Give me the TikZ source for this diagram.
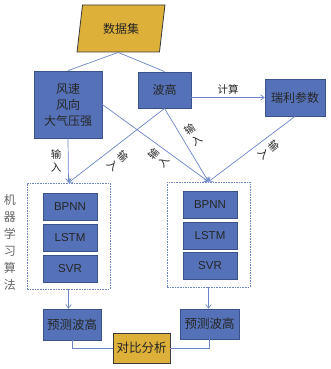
\documentclass[tikz,border=0pt]{standalone}
\usepackage{fontspec}
\setmainfont{Liberation Sans}
\newfontfamily\cjk{Noto Sans CJK SC}
\usetikzlibrary{shapes.geometric,arrows.meta}
\definecolor{boxblue}{HTML}{5572B8}
\definecolor{boxedge}{HTML}{3A5189}
\definecolor{gold}{HTML}{DDB03A}
\definecolor{goldedge}{HTML}{3A3A3A}
\definecolor{linecol}{HTML}{6C86C8}
\definecolor{txt}{HTML}{262626}
\definecolor{side}{HTML}{666666}
\begin{document}
\begin{tikzpicture}[x=1pt,y=-1pt,
  bluebox/.style={draw=boxedge, line width=0.8pt, fill=boxblue, inner sep=0pt, text=txt,
    font=\cjk\fontsize{12}{16}\selectfont, align=center},
  goldbox/.style={bluebox, draw=goldedge, fill=gold},
  algbox/.style={bluebox, minimum width=54pt, minimum height=27pt, font=\fontsize{11.5}{14}\selectfont},
  predbox/.style={bluebox, font=\cjk\fontsize{12.5}{15}\selectfont},
  dashbox/.style={draw=linecol, dash pattern=on 1.6pt off 1pt, line width=0.7pt, fill=white,
    minimum width=83pt, inner sep=0pt},
  conn/.style={draw=linecol, line width=0.7pt},
  arr/.style={conn, -{Straight Barb[length=3.5pt,width=5.5pt]}},
  lbl/.style={font=\cjk\fontsize{10.5}{13}\selectfont, text=txt, align=center, inner sep=0pt}
]
\useasboundingbox (0,0) rectangle (330,369);
\fill[white] (0,0) rectangle (330,369);

\node[trapezium, trapezium left angle=77, trapezium right angle=103, trapezium stretches=true,
  minimum width=88pt, minimum height=47pt, fill=gold, draw=goldedge, line width=0.8pt,
  inner sep=0pt, text=txt, font=\cjk\fontsize{12}{14}\selectfont] (ds) at (121,28.5) {数据集};

\node[bluebox, minimum width=68pt, minimum height=67pt] (wind) at (68,104.5) {风速\\风向\\大气压强};
\node[bluebox, minimum width=53pt, minimum height=36pt] (wave) at (164.5,90) {波高};
\node[bluebox, minimum width=60pt, minimum height=37pt] (ray) at (295,97.5) {瑞利参数};

\node[dashbox, minimum height=106pt] (dL) at (68.5,236) {};
\node[dashbox, minimum height=105pt] (dR) at (208.5,234.5) {};

\node[algbox] (bL) at (70,206.5) {BPNN};
\node[algbox] (lL) at (70,237.5) {LSTM};
\node[algbox] (sL) at (70,268.5) {SVR};
\node[algbox] (bR) at (210,204.5) {BPNN};
\node[algbox] (lR) at (210,235.5) {LSTM};
\node[algbox] (sR) at (210,265.5) {SVR};

\node[predbox, minimum width=58pt, minimum height=31pt] (pL) at (72,324.5) {预测波高};
\node[predbox, minimum width=59pt, minimum height=30pt] (pR) at (209.5,324) {预测波高};
\node[goldbox, minimum width=57pt, minimum height=30pt, font=\cjk\fontsize{12.5}{15}\selectfont] (cmp) at (141.5,348) {对比分析};

\draw[conn] (ds.bottom side) -- (wind.north);
\draw[conn] (ds.bottom side) -- (wave.north);
\draw[arr] (wave.east |- ray.west) -- node[lbl, above=3pt] (calc) {计算} (ray.west);
\draw[arr] (wind.south) -- (dL.north);
\draw[arr] (wave.south) -- (dL.north);
\draw[arr] (wind.east) -- (dR.north);
\draw[arr] (wave.south) -- (dR.north);
\draw[arr] (ray.south) -- (dR.north);
\draw[arr] (dL.south) -- (dL.south |- pL.north);
\draw[arr] (dR.south) -- (dR.south |- pR.north);
\draw[conn] (pL.south) |- (cmp.west);
\draw[conn] (pR.south) |- (cmp.east);

\node[lbl] (in1) at (56,161) {输\\入};
\node[lbl, rotate=-45] (in2) at (118,161) {输\\入};
\node[lbl, rotate=50] (in3) at (159,158) {输\\入};
\node[lbl, rotate=33] (in4) at (193,135) {输\\入};
\node[lbl, rotate=-50] (in5) at (269,150) {输\\入};
\node[lbl, text=side, font=\cjk\fontsize{12}{17}\selectfont] (ml) at (10,242.5) {机\\器\\学\\习\\算\\法};
\end{tikzpicture}
\end{document}
